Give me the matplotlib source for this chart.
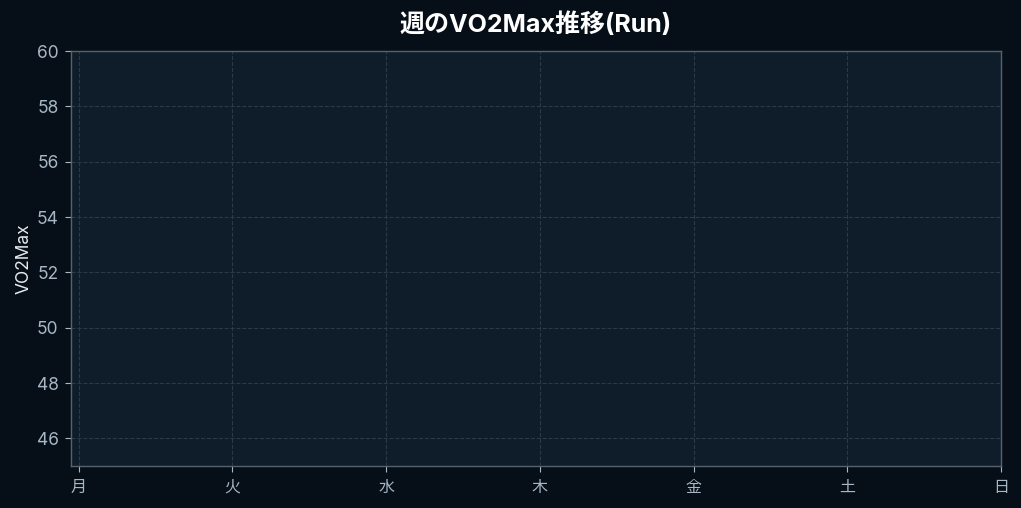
import matplotlib
matplotlib.use("Agg")
import matplotlib.pyplot as plt

plt.rcParams['font.family'] = ['Inter', 'Noto Sans CJK JP', 'DejaVu Sans']

# 曜日とVO2Max (この週はデータなし)
days = ["月", "火", "水", "木", "金", "土", "日"]
vo2max_days = []
vo2max = []
y_ticks = [46, 48, 50, 52, 54, 56, 58, 60]

fig = plt.figure(figsize=(10.21, 5.08), dpi=100, facecolor="#060f17")
ax = fig.add_axes([71 / 1021, 1 - 466 / 508, 930 / 1021, 415 / 508])
ax.set_facecolor("#0f1d2a")

ax.plot(vo2max_days, vo2max, color="#4fc3f7", marker="o")

ax.set_xticks(range(len(days)))
ax.set_xticklabels(days)
ax.set_xlim(-0.05, len(days) - 1)
ax.set_yticks(y_ticks)
ax.set_ylim(45, 60)

ax.grid(True, color="#2a3a48", linestyle="--", linewidth=0.8)
ax.set_axisbelow(True)
for s in ax.spines.values():
    s.set_color("#56636e")
    s.set_linewidth(1.0)

ax.tick_params(colors="#a8b7c5", length=4)
ax.tick_params(axis="y", labelsize=12.5, pad=5)
ax.tick_params(axis="x", labelsize=11.5, pad=6)
ax.set_ylabel("VO2Max", color="#e4ebf1", fontsize=12.5, labelpad=3)
ax.set_title("週のVO2Max推移(Run)", color="white", fontsize=18, fontweight="bold", pad=14)

fig.savefig("out.png", dpi=100, facecolor=fig.get_facecolor())
